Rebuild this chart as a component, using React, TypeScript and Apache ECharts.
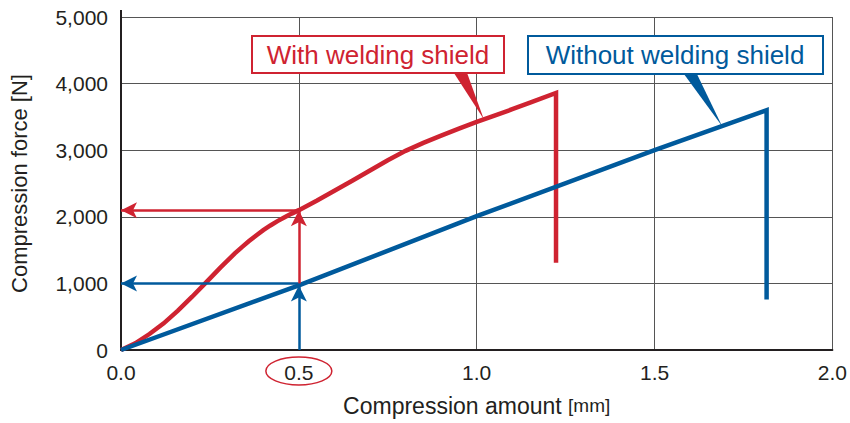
import React, { useEffect, useRef } from "react";
import * as echarts from "echarts";

const RED = "#cf2331";
const BLUE = "#005a9c";
const TEXT = "#231f20";

// Compression amount [mm] -> compression force [N]
const withShield: [number, number][] = [
  [0, 0], [0.04, 100], [0.08, 240], [0.12, 400], [0.16, 590], [0.2, 800],
  [0.24, 1020], [0.28, 1240], [0.32, 1450], [0.34, 1545], [0.36, 1635],
  [0.38, 1720], [0.4, 1800], [0.42, 1870], [0.44, 1935], [0.46, 1993],
  [0.48, 2048], [0.5, 2100], [0.55, 2240], [0.6, 2390], [0.65, 2540],
  [0.7, 2695], [0.75, 2850], [0.8, 2990], [0.85, 3110], [0.9, 3220],
  [0.95, 3325], [1.0, 3425], [1.05, 3520], [1.1, 3615], [1.15, 3715],
  [1.223, 3860], [1.223, 1310],
];
const withoutShield: [number, number][] = [
  [0, 0], [0.5, 970], [1.0, 2010], [1.5, 3000], [1.815, 3600], [1.815, 760],
];

const readoutX = 0.5;
const readWith = 2100;
const readWithout = 1000;

const withLabel = "With welding shield";
const withoutLabel = "Without welding shield";
const withAnchor: [number, number] = [1.02, 3465];
const withoutAnchor: [number, number] = [1.69, 3360];

const xTickFormat = (v: number) => v.toFixed(1);
const yTickFormat = (v: number) => v.toLocaleString("en-US");

const FONT = "Liberation Sans, Arial, Helvetica, sans-serif";

export default function App() {
  const ref = useRef<HTMLDivElement>(null);
  useEffect(() => {
    if (!ref.current) return;
    const chart = echarts.init(ref.current, null, { renderer: "svg" });
    chart.setOption({
      animation: false,
      textStyle: { fontFamily: FONT },
      grid: { left: 121, right: 16, top: 17, bottom: 73 },
      xAxis: {
        type: "value",
        min: 0,
        max: 2,
        interval: 0.5,
        name: "Compression amount {s|[mm]}",
        nameLocation: "middle",
        nameGap: 44,
        nameTextStyle: {
          color: TEXT,
          fontSize: 23,
          fontFamily: FONT,
          rich: { s: { fontSize: 19, color: TEXT, fontFamily: FONT } },
        },
        axisLine: { lineStyle: { color: TEXT, width: 2 } },
        axisTick: { show: false },
        axisLabel: { formatter: xTickFormat, color: TEXT, fontSize: 21, margin: 12, fontFamily: FONT },
        splitLine: { show: true, lineStyle: { color: "#555", width: 1 } },
      },
      yAxis: {
        type: "value",
        min: 0,
        max: 5000,
        interval: 1000,
        name: "Compression force [N]",
        nameLocation: "middle",
        nameGap: 91,
        nameTextStyle: { color: TEXT, fontSize: 22, fontFamily: FONT },
        axisLine: { show: true, lineStyle: { color: TEXT, width: 2 } },
        axisTick: { show: false },
        axisLabel: { formatter: yTickFormat, color: TEXT, fontSize: 21, margin: 13, fontFamily: FONT },
        splitLine: { show: true, lineStyle: { color: "#555", width: 1 } },
      },
      series: [
        {
          type: "line",
          name: withoutLabel,
          data: withoutShield,
          showSymbol: false,
          lineStyle: { color: BLUE, width: 4.5, join: "miter" },
          z: 3,
          markLine: {
            silent: true,
            symbol: ["none", "arrow"],
            symbolSize: [12, 16],
            label: { show: false },
            lineStyle: { color: BLUE, width: 2.5, type: "solid" },
            data: [
              [{ coord: [readoutX, 0] }, { coord: [readoutX, readWithout - 30] }],
              [{ coord: [readoutX, readWithout] }, { coord: [0, readWithout] }],
            ],
          },
        },
        {
          type: "line",
          name: withLabel,
          data: withShield,
          showSymbol: false,
          lineStyle: { color: RED, width: 4.5, join: "miter" },
          z: 2,
          markLine: {
            silent: true,
            symbol: ["none", "arrow"],
            symbolSize: [12, 16],
            label: { show: false },
            lineStyle: { color: RED, width: 2.5, type: "solid" },
            data: [
              [{ coord: [readoutX, readWithout] }, { coord: [readoutX, readWith] }],
              [{ coord: [readoutX, readWith] }, { coord: [0, readWith] }],
            ],
          },
        },
      ],
    });

    const px = (p: [number, number]) => chart.convertToPixel({ gridIndex: 0 }, p) as number[];
    const o = px([0, 0]);
    const top = px([0, 5000]);
    const half = px([readoutX, 0]);
    const wa = px(withAnchor);
    const woa = px(withoutAnchor);

    chart.setOption({
      graphic: [
        { type: "line", shape: { x1: o[0], y1: top[1] - 7, x2: o[0], y2: top[1] }, style: { stroke: TEXT, lineWidth: 2 }, z: 10 },
        { type: "ellipse", shape: { cx: half[0], cy: o[1] + 21, rx: 33, ry: 14 }, style: { stroke: RED, lineWidth: 1.5, fill: "none" }, z: 10 },
        // red callout
        { type: "polygon", shape: { points: [[452, 70], [466, 70], wa] }, style: { fill: RED }, z: 20 },
        { type: "rect", shape: { x: 252, y: 36, width: 252, height: 37 }, style: { fill: "#fff", stroke: RED, lineWidth: 2 }, z: 21 },
        { type: "text", x: 378, y: 55, style: { text: withLabel, fill: RED, fontSize: 26, fontFamily: FONT, align: "center", verticalAlign: "middle" }, z: 22 },
        // blue callout
        { type: "polygon", shape: { points: [[681, 70], [695, 70], woa] }, style: { fill: BLUE }, z: 20 },
        { type: "rect", shape: { x: 528, y: 36, width: 295, height: 38 }, style: { fill: "#fff", stroke: BLUE, lineWidth: 2 }, z: 21 },
        { type: "text", x: 675, y: 55, style: { text: withoutLabel, fill: BLUE, fontSize: 26, fontFamily: FONT, align: "center", verticalAlign: "middle" }, z: 22 },
      ],
    });

    return () => chart.dispose();
  }, []);
  return <div ref={ref} style={{ width: 850, height: 423, position: "absolute", left: 0, top: 0 }} />;
}
